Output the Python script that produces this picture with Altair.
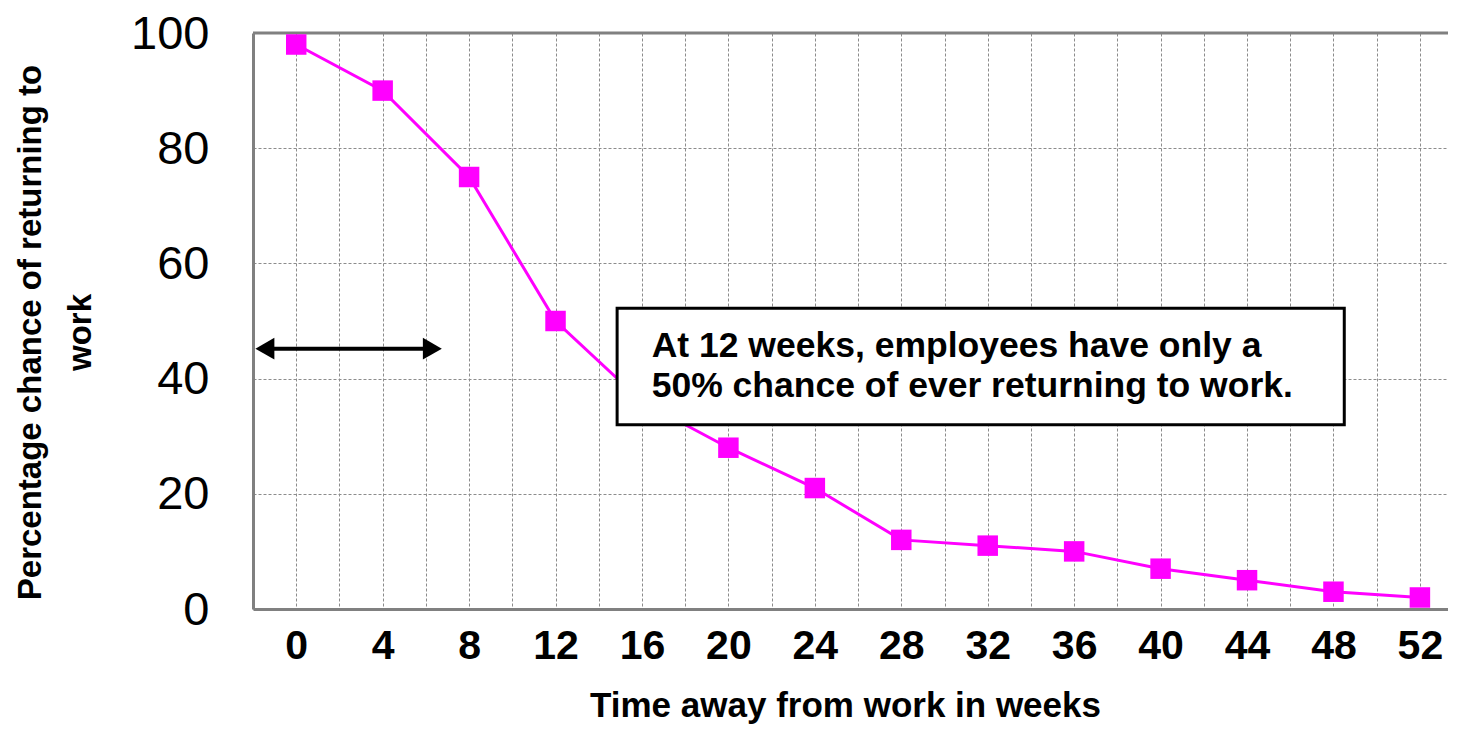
import altair as alt
import pandas as pd

# ---- data ----
weeks = [0, 4, 8, 12, 16, 20, 24, 28, 32, 36, 40, 44, 48, 52]
chance = [98, 90, 75, 50, 36, 28, 21, 12, 11, 10, 7, 5, 3, 2]

x_title = "Time away from work in weeks"
y_title = ["Percentage chance of returning to", "work"]
note_lines = ["At 12 weeks, employees have only a",
              "50% chance of ever returning to work."]

# annotation placement (data units)
box = {"x": 14.85, "x2": 48.5, "y": 52.2, "y2": 32.0}
note_x = 16.45
note_y = [43.7, 36.8]
arrow_y = 45.2
arrow_from, arrow_to = -1.45, 6.3

df = pd.DataFrame({"week": weeks, "chance": chance})
FONT = "Liberation Sans"
MAGENTA = "#FF00FF"
GRID = "#8c8c8c"

xscale = alt.Scale(domain=[-2, 53.3], nice=False, zero=False)
yscale = alt.Scale(domain=[0, 100], nice=False)

grid_vals = list(range(0, 54, 2))

xenc = alt.X(
    "week:Q", scale=xscale,
    axis=alt.Axis(
        values=grid_vals,
        labelExpr="datum.value % 4 == 0 ? datum.label : ''",
        title=x_title, titleFont=FONT, titleFontSize=35, titleFontWeight="bold",
        titleColor="black", titleX=592, titleY=107, titleBaseline="alphabetic",
        titleAlign="center",
        labelFont=FONT, labelFontSize=41, labelFontWeight="bold", labelColor="black",
        labelPadding=17, labelOverlap=False, labelFlush=False,
        ticks=False, domainColor="#808080", domainWidth=3,
        grid=True, gridColor=GRID, gridDash=[3, 2], gridWidth=1,
    ),
)
yenc = alt.Y(
    "chance:Q", scale=yscale,
    axis=alt.Axis(
        values=[0, 20, 40, 60, 80, 100],
        title=y_title, titleFont=FONT, titleFontSize=33, titleFontWeight="bold",
        titleColor="black", titleAngle=-90, titleAlign="center",
        titleBaseline="bottom", titleX=-206, titleY=299, titleLineHeight=50,
        labelFont=FONT, labelFontSize=47, labelColor="black", labelPadding=44,
        labelBaseline="middle", labelOffset=1,
        ticks=False, domainColor="#808080", domainWidth=3,
        grid=True, gridColor=GRID, gridDash=[3, 2], gridWidth=1,
    ),
)

base = alt.Chart(df)
line = base.mark_line(color=MAGENTA, strokeWidth=3).encode(x=xenc, y=yenc)
pts = base.mark_point(shape="square", filled=True, color=MAGENTA, size=420, opacity=1).encode(
    x="week:Q", y="chance:Q")

top_border = alt.Chart(pd.DataFrame({"v": [100]})).mark_rule(
    color="#808080", strokeWidth=3).encode(y=alt.Y("v:Q", scale=yscale))

box_df = pd.DataFrame([box])
rect = alt.Chart(box_df).mark_rect(fill="white", stroke="black", strokeWidth=3).encode(
    x=alt.X("x:Q", scale=xscale), x2="x2:Q",
    y=alt.Y("y:Q", scale=yscale), y2="y2:Q")

note_df = pd.DataFrame({"x": [note_x, note_x], "y": note_y, "t": note_lines})
note = alt.Chart(note_df).mark_text(
    align="left", baseline="alphabetic", font=FONT, fontSize=35.5, fontWeight="bold",
    color="black").encode(
    x=alt.X("x:Q", scale=xscale), y=alt.Y("y:Q", scale=yscale), text="t:N")

arrow_df = pd.DataFrame({"a": [arrow_from], "b": [arrow_to], "y": [arrow_y]})
shaft = alt.Chart(arrow_df).mark_rule(color="black", strokeWidth=4).encode(
    x=alt.X("a:Q", scale=xscale), x2="b:Q", y=alt.Y("y:Q", scale=yscale))
heads_df = pd.DataFrame({"x": [arrow_from, arrow_to], "y": [arrow_y, arrow_y],
                         "s": ["triangle-left", "triangle-right"]})
heads = alt.Chart(heads_df).mark_point(filled=True, color="black", size=480, opacity=1).encode(
    x=alt.X("x:Q", scale=xscale), y=alt.Y("y:Q", scale=yscale),
    shape=alt.Shape("s:N", scale=None, legend=None))

chart = alt.layer(top_border, line, pts, rect, note, shaft, heads).properties(
    width=1195, height=576,
    autosize=alt.AutoSizeParams(type="none"),
    padding={"left": 245, "top": 25, "right": 0, "bottom": 116},
).configure_view(stroke=None).configure(background="white")

chart.save("out.html", embed_options={"renderer": "svg", "actions": False})
